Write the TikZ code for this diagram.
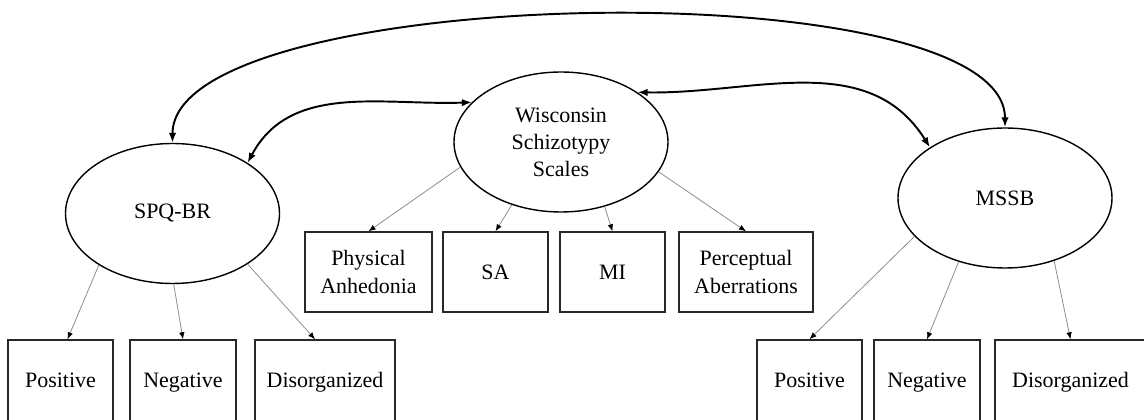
\documentclass[tikz,border=0pt]{standalone}
\usepackage{fontspec}
\setmainfont{Liberation Serif}
\usetikzlibrary{shapes.geometric, arrows.meta, positioning}
\definecolor{loadgray}{RGB}{140, 140, 140}
\definecolor{boxline}{RGB}{40, 40, 40}
\tikzset{
  factor/.style={ellipse, draw=black, line width=0.8pt, minimum width=4.28cm, minimum height=2.8cm, align=center, inner sep=1pt, font=\fontsize{12.5}{15.4}\selectfont},
  indicator/.style={rectangle, draw=boxline, line width=0.8pt, minimum height=1.6cm, align=center, inner sep=2pt, font=\fontsize{12.5}{15.4}\selectfont},
  lowbox/.style={indicator, minimum height=1.68cm, text height=2.0ex, text depth=0.6ex},
  loading/.style={draw=loadgray, line width=0.45pt, -{Latex[length=1.4mm, width=1.1mm, color=black]}},
  covar/.style={line width=1.1pt, {Latex[length=2mm, width=1.5mm]}-{Latex[length=2mm, width=1.5mm]}}
}

\begin{document}
\begin{tikzpicture}
    \useasboundingbox (0, 0) rectangle (22.88, 8.40);
    % latent factors
    \node[factor] (spq) at (3.45, 4.13) {SPQ-BR};
    \node[factor] (wss) at (11.22, 5.56) {Wisconsin\\Schizotypy\\Scales};
    \node[factor] (mssb) at (20.10, 4.44) {MSSB};
    % Wisconsin scales
    \node[indicator, minimum width=2.54cm] (pa) at (7.37, 2.96) {Physical\\Anhedonia};
    \node[indicator, minimum width=2.10cm] (sa) at (9.91, 2.96) {SA};
    \node[indicator, minimum width=2.10cm] (mi) at (12.25, 2.96) {MI};
    \node[indicator, minimum width=2.68cm] (pab) at (14.92, 2.96) {Perceptual\\Aberrations};
    % SPQ-BR and MSSB dimensions
    \node[lowbox, minimum width=2.10cm] (spqpos) at (1.21, 0.76) {Positive};
    \node[lowbox, minimum width=2.12cm] (spqneg) at (3.66, 0.76) {Negative};
    \node[lowbox, minimum width=2.80cm] (spqdis) at (6.50, 0.76) {Disorganized};
    \node[lowbox, minimum width=2.10cm] (mssbpos) at (16.19, 0.76) {Positive};
    \node[lowbox, minimum width=2.12cm] (mssbneg) at (18.54, 0.76) {Negative};
    \node[lowbox, minimum width=3.02cm] (mssbdis) at (21.41, 0.76) {Disorganized};
    % loadings
    \draw[loading] (spq.215) -- ([xshift=0.14cm]spqpos.north);
    \draw[loading] (spq.271) -- (spqneg.north);
    \draw[loading] (spq.326) -- ([xshift=-0.2cm]spqdis.north);
    \draw[loading] (wss.194) -- (pa.north);
    \draw[loading] (wss.232) -- (sa.north);
    \draw[loading] (wss.304) -- (mi.north);
    \draw[loading] (wss.343) -- (pab.north);
    \draw[loading] (mssb.203) -- (mssbpos.north);
    \draw[loading] (mssb.234) -- (mssbneg.north);
    \draw[loading] (mssb.308) -- (mssbdis.north);
    % correlations between factors
    \draw[covar] (spq.north) to[out=90, in=90, looseness=0.49] (mssb.north);
    \draw[covar] (spq.34) to[out=62, in=182] (wss.156);
    \draw[covar] (wss.33) to[out=-1, in=122] (mssb.146);
\end{tikzpicture}
\end{document}
